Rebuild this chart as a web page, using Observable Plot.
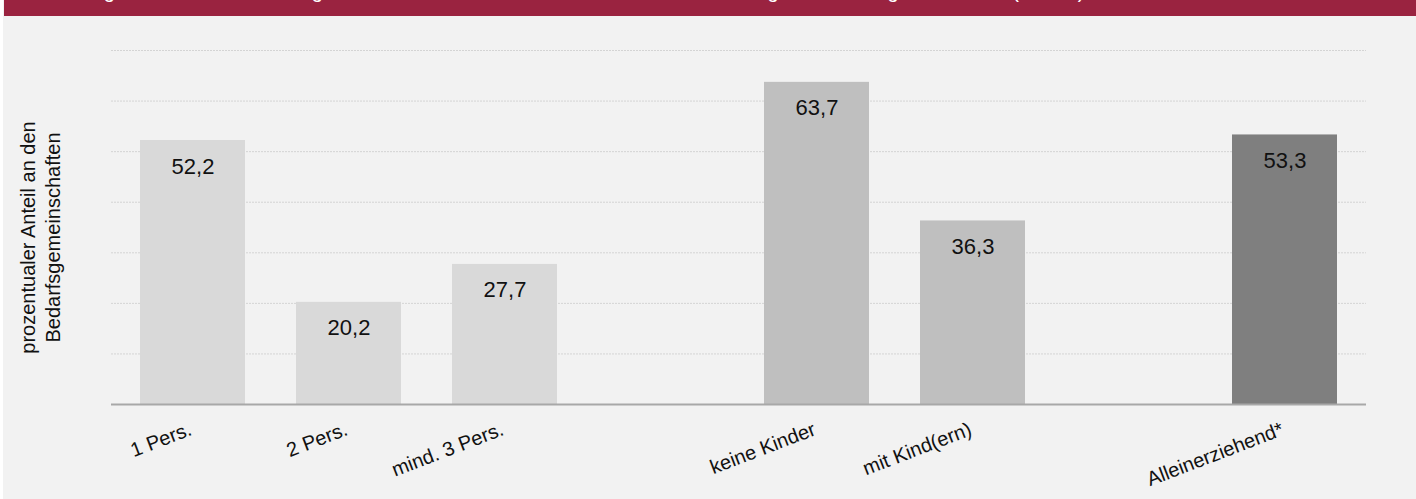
<!DOCTYPE html>
<html>
<head>
<meta charset="utf-8">
<script src="https://cdn.jsdelivr.net/npm/d3@7"></script>
<script src="https://cdn.jsdelivr.net/npm/@observablehq/plot@0.6"></script>
<style>
  html, body { margin: 0; padding: 0; background: #ffffff; }
  #wrap { position: absolute; left: 3px; top: 0; width: 1413px; height: 499px; background: #f2f2f2; overflow: hidden; }
  #banner { position: absolute; left: 1px; top: 0; width: 1412px; height: 16px; background: #9a2340; overflow: hidden; }
  #banner span { position: absolute; left: 22px; top: -20.5px; color: #ffffff; font: 20px "Liberation Sans", Arial, sans-serif; white-space: nowrap; line-height: 22px; }
  #chart { position: absolute; left: 0; top: 16px; }
  svg { font-family: "Liberation Sans", Arial, sans-serif; }
</style>
</head>
<body>
<div id="wrap">
  <div id="banner"><span>Abbildung 14: Anteil der Bedarfsgemeinschaften nach Größe und Zusammensetzung der Bedarfsgemeinschaft (SGB II) in %</span></div>
  <div id="chart"></div>
</div>
<script>
const categories = ["1 Pers.", "2 Pers.", "mind. 3 Pers.", "keine Kinder", "mit Kind(ern)", "Alleinerziehend*"];
const values = [52.2, 20.2, 27.7, 63.7, 36.3, 53.3];
const groups = ["Haushaltsgröße", "Haushaltsgröße", "Haushaltsgröße", "Kinder", "Kinder", "Alleinerziehend"];
const gridTicks = [10, 20, 30, 40, 50, 60, 70];
const yTitle = "prozentualer Anteil an den\nBedarfsgemeinschaften";

const data = categories.map((c, i) => ({category: c, value: values[i], group: groups[i]}));
const xDomain = [categories[0], categories[1], categories[2], "_gap1", categories[3], categories[4], "_gap2", categories[5]];
const fmt = v => v.toFixed(1).replace(".", ",");

const chart = Plot.plot({
  width: 1413,
  height: 483,
  marginTop: 34,
  marginBottom: 95,
  marginLeft: 108,
  marginRight: 50,
  style: {background: "transparent", fontFamily: "'Liberation Sans', Arial, sans-serif"},
  x: {domain: xDomain, paddingInner: 0.33, paddingOuter: 0.165, axis: null},
  y: {domain: [0, 70], axis: null},
  color: {domain: ["Haushaltsgröße", "Kinder", "Alleinerziehend"], range: ["#d9d9d9", "#bfbfbf", "#7f7f7f"]},
  marks: [
    Plot.ruleY(gridTicks, {stroke: "#d4d4d4", strokeWidth: 1, strokeDasharray: "2,1"}),
    Plot.barY(data, {x: "category", y: "value", fill: "group"}),
    Plot.ruleY([0], {stroke: "#a8a8a8", strokeWidth: 2}),
    Plot.text(data, {x: "category", y: "value", text: d => fmt(d.value), dy: 33, lineAnchor: "bottom", fontSize: 22, fill: "#111"}),
    Plot.text(data, {x: "category", frameAnchor: "bottom", text: "category", dy: 30, rotate: -21, textAnchor: "end", lineAnchor: "bottom", fontSize: 20, fill: "#111"}),
    Plot.text([yTitle], {frameAnchor: "left", text: d => d, dx: -72, dy: 10, rotate: -90, textAnchor: "middle", lineAnchor: "middle", lineHeight: 1.25, fontSize: 20, fill: "#111"})
  ]
});
document.getElementById("chart").appendChild(chart);
</script>
</body>
</html>
